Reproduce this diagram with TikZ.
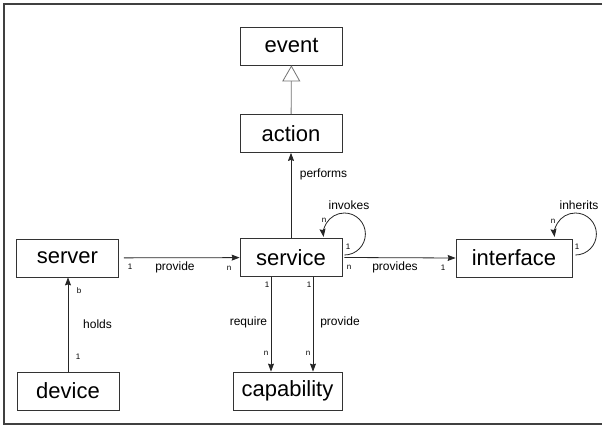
\documentclass[tikz,border=0pt]{standalone}
\usepackage{fontspec}
\setmainfont{Liberation Sans}
\usetikzlibrary{arrows.meta}

\tikzset{
    entity/.style={draw=black!80, line width=0.8pt, minimum width=102pt, minimum height=38pt, inner sep=0pt, font=\fontsize{22}{26}\selectfont},
    rel/.style={draw=black!85, line width=0.8pt, -{Stealth[length=8pt,width=6pt,inset=1pt]}},
    isa/.style={draw=black!55, line width=0.8pt, -{Triangle[open,length=16pt,width=18pt,fill=white]}},
    lbl/.style={font=\fontsize{12}{14}\selectfont, inner sep=0pt},
    card/.style={font=\fontsize{8}{9}\selectfont, inner sep=0pt},
}

\begin{document}
\begin{tikzpicture}[x=1pt,y=1pt]
    \useasboundingbox (0,0) rectangle (603,-427);
    \draw[black!75, line width=1.2pt] (602,-4) -- (4,-4) -- (4,-424) -- (602,-424);

    \node[entity] (event) at (291.5,-46) {event};
    \node[entity] (action) at (291,-133.5) {action};
    \node[entity] (service) at (291,-257.5) {service};
    \node[entity] (server) at (67.5,-258) {server};
    \node[entity] (device) at (68,-391) {device};
    \node[entity, minimum width=109pt] (capability) at (287.5,-391) {capability};
    \node[entity, minimum width=116pt] (interface) at (514,-258) {interface};

    \draw[isa] (action) -- (event);
    \draw[rel] (service) -- (action);
    \draw[rel, shorten <=5pt] (server) -- (service);
    \draw[rel] ([xshift=2pt]service.east) -- (interface.west |- 0,-258);
    \draw[rel] (device.north) -- (device.north |- server.south);
    \draw[rel] ([xshift=-20pt]service.south) -- ([xshift=-20pt]service.south |- capability.north);
    \draw[rel] ([xshift=22pt]service.south) -- ([xshift=22pt]service.south |- capability.north);
    \draw[rel] ([xshift=2pt,yshift=2.5pt]service.east) arc[start angle=-90, end angle=188, radius=21pt];
    \draw[rel] ([xshift=3pt,yshift=3pt]interface.east) arc[start angle=-90, end angle=188, radius=21pt];

    \node[lbl] (performs) at (323.5,-174) {performs};
    \node[lbl] (invokes) at (349,-205) {invokes};
    \node[lbl] (provides) at (395,-267) {provides};
    \node[lbl] (inherits) at (579,-205) {inherits};
    \node[lbl] (provide) at (175,-267) {provide};
    \node[lbl] (holds) at (97.5,-324) {holds};
    \node[lbl] (require) at (248.5,-322) {require};
    \node[lbl] (provide2) at (340,-322) {provide};

    \node[card] (invn) at (324,-220) {n};
    \node[card] (inv1) at (348,-247) {1};
    \node[card] (provn) at (349,-267) {n};
    \node[card] (prov1) at (443,-268) {1};
    \node[card] (inhn) at (553,-221) {n};
    \node[card] (inh1) at (577,-247) {1};
    \node[card] (srv1) at (130,-267) {1};
    \node[card] (srvn) at (229,-268) {n};
    \node[card] (holdb) at (79,-291) {b};
    \node[card] (hold1) at (78,-357) {1};
    \node[card] (req1) at (267,-285) {1};
    \node[card] (reqn) at (266,-353) {n};
    \node[card] (pro1) at (309,-285) {1};
    \node[card] (pron) at (308,-353) {n};
\end{tikzpicture}
\end{document}
